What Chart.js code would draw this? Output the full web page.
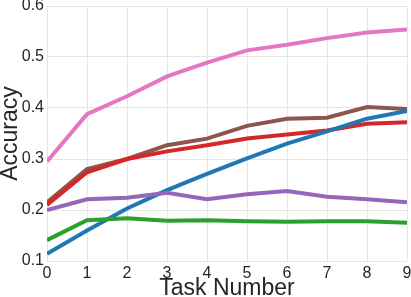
<!DOCTYPE html>
<html>
<head>
<meta charset="utf-8">
<script src="https://cdn.jsdelivr.net/npm/chart.js@4.4.1/dist/chart.umd.min.js"></script>
<style>
  html, body { margin: 0; padding: 0; background: #fff; }
  #wrap { width: 411px; height: 297px; position: relative; }
</style>
</head>
<body>
<div id="wrap"><canvas id="chart"></canvas></div>
<script>
const tasks = [0, 1, 2, 3, 4, 5, 6, 7, 8, 9];
const pinkVals   = [0.295, 0.388, 0.423, 0.462, 0.489, 0.513, 0.524, 0.537, 0.548, 0.554];
const brownVals  = [0.215, 0.280, 0.300, 0.327, 0.340, 0.365, 0.379, 0.381, 0.402, 0.398];
const redVals    = [0.210, 0.274, 0.300, 0.315, 0.327, 0.340, 0.348, 0.356, 0.369, 0.372];
const blueVals   = [0.114, 0.160, 0.203, 0.239, 0.271, 0.301, 0.330, 0.354, 0.379, 0.394];
const purpleVals = [0.200, 0.221, 0.224, 0.234, 0.221, 0.231, 0.237, 0.226, 0.221, 0.215];
const greenVals  = [0.141, 0.180, 0.184, 0.179, 0.180, 0.178, 0.177, 0.178, 0.178, 0.175];

const series = [
    { vals: greenVals, color: '#2ca02c' },
    { vals: purpleVals, color: '#9467bd' },
    { vals: blueVals, color: '#1f77b4' },
    { vals: redVals, color: '#d62728' },
    { vals: brownVals, color: '#8c564b' },
    { vals: pinkVals, color: '#e377c2' }
];

const font = "'Liberation Sans', Arial, sans-serif";

new Chart(document.getElementById('chart').getContext('2d'), {
    type: 'line',
    data: {
        datasets: series.map(s => ({
            data: s.vals.map((v, i) => ({ x: tasks[i], y: v })),
            borderColor: s.color,
            borderWidth: 4,
            pointRadius: 0,
            tension: 0,
            fill: false
        }))
    },
    options: {
        responsive: true,
        maintainAspectRatio: false,
        animation: false,
        layout: { padding: { top: 6, right: 4, left: 0, bottom: 0 } },
        plugins: { legend: { display: false }, tooltip: { enabled: false } },
        scales: {
            x: {
                type: 'linear',
                min: 0, max: 9,
                ticks: { stepSize: 1, color: '#262626', font: { family: font, size: 16 }, padding: 3 },
                grid: { color: '#e5e5e5', lineWidth: 1, drawTicks: false },
                border: { display: false },
                title: { display: true, text: 'Task Number', color: '#262626', font: { family: font, size: 23 }, padding: { top: 0, bottom: -5 } },
                // fixed axis band so the plot area lines up with the original
                afterFit: scale => {
                    scale.height = 36;
                    scale.paddingLeft = 0;
                    scale.paddingRight = 0;
                }
            },
            y: {
                min: 0.1, max: 0.6,
                ticks: { stepSize: 0.1, color: '#262626', font: { family: font, size: 16 }, padding: 3,
                         callback: v => v.toFixed(1) },
                grid: { color: '#e5e5e5', lineWidth: 1, drawTicks: false },
                border: { display: false },
                title: { display: true, text: 'Accuracy', color: '#262626', font: { family: font, size: 23 }, padding: { top: -3.5, bottom: 0 } },
                afterFit: scale => {
                    scale.width = 47;
                    scale.paddingTop = 0;
                    scale.paddingBottom = 0;
                }
            }
        }
    }
});
</script>
</body>
</html>
